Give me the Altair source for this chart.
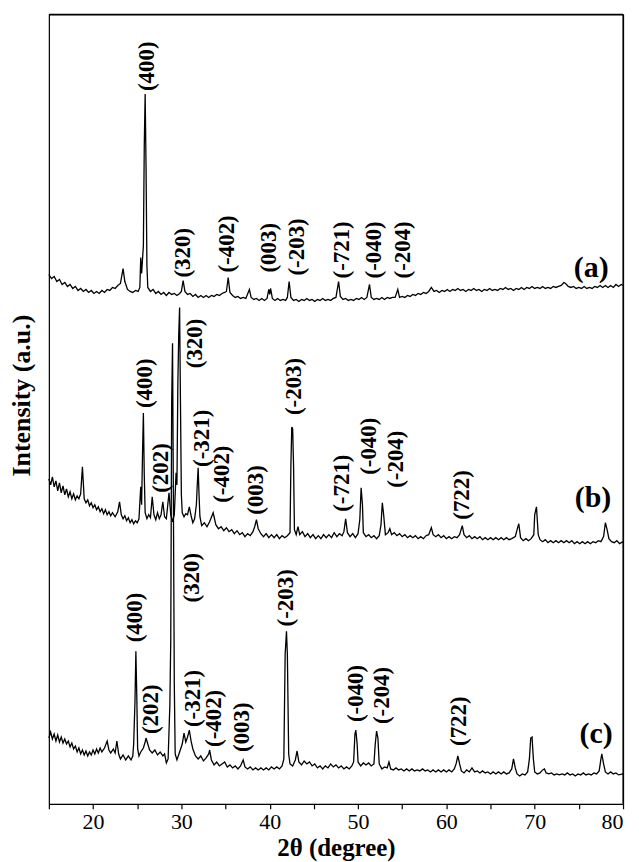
import altair as alt
import pandas as pd

# ---- data (2θ in degrees, intensity in arbitrary units) ----
trace_a = [
    (15.0, 531), (15.3, 527), (15.6, 529), (15.9, 524), (16.2, 526), (16.5, 521), (16.8, 523), (17.1, 519),
    (17.4, 521), (17.7, 517), (18.0, 519), (18.3, 515), (18.6, 517), (18.9, 514), (19.2, 516), (19.5, 513),
    (19.8, 515), (20.1, 512), (20.4, 514), (20.7, 512), (21.0, 515), (21.3, 513), (21.6, 516), (21.9, 515),
    (22.2, 518), (22.5, 517), (22.8, 520), (23.1, 522), (23.4, 537), (23.6, 524), (23.9, 516), (24.2, 514),
    (24.5, 513), (24.8, 515), (25.1, 514), (25.3, 518), (25.4, 548), (25.5, 532), (25.7, 560), (25.8, 660),
    (25.9, 712), (26.0, 640), (26.1, 540), (26.2, 518), (26.5, 514), (26.8, 516), (27.1, 512), (27.4, 514),
    (27.7, 511), (28.0, 513), (28.3, 510), (28.6, 513), (28.9, 511), (29.2, 512), (29.5, 510), (29.8, 512),
    (30.0, 514), (30.2, 525), (30.4, 514), (30.7, 511), (31.0, 512), (31.3, 509), (31.6, 511), (31.9, 508),
    (32.2, 510), (32.5, 508), (32.8, 510), (33.1, 508), (33.4, 510), (33.7, 509), (34.0, 511), (34.3, 510),
    (34.6, 512), (34.9, 513), (35.1, 514), (35.3, 528), (35.5, 513), (35.8, 510), (36.1, 508), (36.4, 509),
    (36.7, 507), (37.0, 508), (37.3, 507), (37.7, 516), (37.9, 508), (38.2, 506), (38.5, 507), (38.8, 505),
    (39.1, 507), (39.4, 505), (39.7, 507), (39.9, 516), (40.0, 511), (40.1, 517), (40.3, 507), (40.6, 505),
    (40.9, 507), (41.2, 505), (41.5, 506), (41.8, 505), (42.0, 508), (42.2, 524), (42.4, 508), (42.7, 505),
    (43.0, 506), (43.3, 504), (43.6, 506), (43.9, 505), (44.2, 507), (44.5, 505), (44.8, 506), (45.1, 504),
    (45.4, 506), (45.7, 505), (46.0, 507), (46.3, 505), (46.6, 506), (46.9, 505), (47.2, 507), (47.5, 508),
    (47.8, 524), (48.0, 509), (48.3, 506), (48.6, 507), (48.9, 505), (49.2, 506), (49.5, 505), (49.8, 507),
    (50.1, 506), (50.4, 508), (50.7, 506), (51.0, 508), (51.3, 521), (51.5, 508), (51.8, 506), (52.1, 507),
    (52.4, 506), (52.7, 508), (53.0, 506), (53.3, 508), (53.6, 507), (53.9, 508), (54.2, 508), (54.5, 516),
    (54.7, 508), (55.0, 509), (55.3, 508), (55.6, 510), (55.9, 509), (56.2, 511), (56.5, 510), (56.8, 512),
    (57.1, 511), (57.4, 513), (57.7, 512), (58.0, 514), (58.3, 518), (58.6, 514), (58.9, 515), (59.2, 513),
    (59.5, 515), (59.8, 514), (60.1, 516), (60.4, 514), (60.7, 516), (61.0, 515), (61.3, 517), (61.6, 515),
    (61.9, 516), (62.2, 514), (62.5, 516), (62.8, 515), (63.1, 517), (63.4, 515), (63.7, 516), (64.0, 514),
    (64.3, 516), (64.6, 515), (64.9, 517), (65.2, 515), (65.5, 516), (65.8, 515), (66.1, 517), (66.4, 516),
    (66.7, 518), (67.0, 516), (67.3, 517), (67.6, 515), (67.9, 517), (68.2, 516), (68.5, 518), (68.8, 516),
    (69.1, 518), (69.4, 517), (69.7, 519), (70.0, 517), (70.3, 518), (70.6, 517), (70.9, 519), (71.2, 517),
    (71.5, 518), (71.8, 517), (72.1, 519), (72.4, 518), (72.7, 519), (73.0, 520), (73.3, 523), (73.5, 522),
    (73.8, 519), (74.1, 518), (74.4, 519), (74.7, 517), (75.0, 518), (75.3, 517), (75.6, 519), (75.9, 517),
    (76.2, 518), (76.5, 517), (76.8, 519), (77.1, 518), (77.4, 520), (77.7, 518), (78.0, 520), (78.3, 518),
    (78.6, 520), (78.9, 518), (79.2, 521), (79.5, 519), (79.8, 521), (80.0, 520),
]

trace_b = [
    (15.0, 326), (15.2, 320), (15.4, 328), (15.6, 318), (15.8, 324), (16.0, 314), (16.2, 322), (16.4, 312),
    (16.6, 319), (16.8, 310), (17.0, 316), (17.2, 308), (17.4, 313), (17.6, 306), (17.8, 311), (18.0, 305),
    (18.2, 309), (18.4, 306), (18.6, 311), (18.8, 338), (19.0, 306), (19.2, 302), (19.4, 305), (19.6, 299),
    (19.8, 302), (20.0, 297), (20.2, 300), (20.4, 295), (20.6, 298), (20.8, 293), (21.0, 296), (21.2, 291),
    (21.4, 295), (21.6, 290), (21.8, 293), (22.0, 289), (22.2, 292), (22.5, 288), (22.8, 293), (23.0, 303),
    (23.2, 290), (23.4, 286), (23.6, 289), (23.8, 284), (24.0, 287), (24.2, 282), (24.4, 285), (24.6, 281),
    (24.8, 284), (25.0, 282), (25.2, 286), (25.4, 318), (25.5, 300), (25.6, 350), (25.7, 392), (25.8, 330),
    (25.9, 292), (26.1, 286), (26.3, 290), (26.5, 287), (26.7, 308), (26.9, 290), (27.1, 285), (27.3, 292),
    (27.5, 286), (27.7, 290), (27.9, 303), (28.1, 288), (28.3, 286), (28.6, 312), (28.8, 290), (29.0, 283),
    (29.2, 290), (29.4, 332), (29.5, 320), (29.6, 420), (29.7, 470), (29.8, 498), (29.9, 400), (30.0, 310),
    (30.1, 292), (30.3, 288), (30.5, 291), (30.7, 290), (30.9, 298), (31.1, 289), (31.3, 282), (31.5, 286),
    (31.7, 300), (31.8, 320), (31.9, 337), (32.0, 310), (32.1, 288), (32.3, 279), (32.6, 282), (32.9, 278),
    (33.2, 283), (33.6, 292), (33.9, 280), (34.2, 276), (34.5, 278), (34.8, 274), (35.1, 277), (35.4, 273),
    (35.7, 275), (36.0, 271), (36.3, 274), (36.6, 270), (36.9, 272), (37.2, 268), (37.5, 271), (37.8, 269),
    (38.1, 273), (38.3, 278), (38.5, 285), (38.7, 276), (39.0, 271), (39.3, 268), (39.6, 271), (39.9, 267),
    (40.2, 270), (40.5, 267), (40.8, 270), (41.1, 266), (41.4, 269), (41.7, 267), (42.0, 269), (42.3, 272),
    (42.4, 340), (42.5, 378), (42.6, 376), (42.7, 340), (42.8, 275), (43.0, 270), (43.2, 278), (43.4, 270),
    (43.7, 273), (44.0, 268), (44.3, 271), (44.6, 267), (44.9, 270), (45.2, 266), (45.5, 269), (45.8, 266),
    (46.1, 270), (46.4, 267), (46.7, 270), (47.0, 267), (47.3, 272), (47.6, 268), (47.9, 271), (48.2, 269),
    (48.4, 273), (48.6, 286), (48.8, 272), (49.1, 268), (49.4, 271), (49.7, 267), (50.0, 271), (50.2, 285),
    (50.35, 317), (50.5, 300), (50.6, 272), (50.9, 268), (51.2, 270), (51.5, 267), (51.8, 269), (52.1, 266),
    (52.4, 269), (52.6, 280), (52.75, 302), (52.9, 290), (53.1, 270), (53.4, 272), (53.6, 276), (53.8, 270),
    (54.1, 272), (54.4, 269), (54.7, 271), (55.0, 268), (55.3, 270), (55.6, 267), (55.9, 269), (56.2, 267),
    (56.5, 269), (56.8, 266), (57.1, 268), (57.4, 266), (57.7, 269), (58.0, 270), (58.3, 277), (58.5, 270),
    (58.8, 268), (59.1, 270), (59.4, 267), (59.7, 269), (60.0, 266), (60.3, 268), (60.6, 266), (60.9, 268),
    (61.2, 267), (61.5, 270), (61.8, 279), (62.0, 270), (62.3, 267), (62.6, 269), (62.9, 266), (63.2, 268),
    (63.5, 266), (63.8, 268), (64.1, 265), (64.4, 267), (64.7, 265), (65.0, 267), (65.3, 265), (65.6, 267),
    (65.9, 265), (66.2, 267), (66.5, 265), (66.8, 267), (67.1, 265), (67.4, 266), (67.8, 268), (68.1, 278),
    (68.2, 281), (68.4, 267), (68.7, 264), (69.0, 266), (69.3, 264), (69.6, 266), (69.9, 270), (70.0, 290),
    (70.2, 298), (70.4, 270), (70.6, 265), (70.9, 263), (71.2, 265), (71.5, 262), (71.8, 264), (72.1, 262),
    (72.4, 264), (72.7, 262), (73.0, 264), (73.3, 262), (73.6, 264), (73.9, 262), (74.2, 264), (74.5, 261),
    (74.8, 263), (75.1, 261), (75.4, 263), (75.7, 261), (76.0, 263), (76.3, 261), (76.6, 263), (76.9, 262),
    (77.2, 264), (77.5, 263), (77.8, 268), (78.0, 282), (78.2, 275), (78.4, 266), (78.7, 263), (79.0, 262),
    (79.3, 264), (79.6, 261), (80.0, 263),
]

trace_c = [
    (15.0, 66), (15.2, 72), (15.4, 65), (15.6, 70), (15.8, 63), (16.0, 69), (16.2, 62), (16.4, 67),
    (16.6, 61), (16.8, 65), (17.0, 60), (17.2, 63), (17.4, 57), (17.6, 61), (17.8, 55), (18.0, 58),
    (18.2, 52), (18.4, 56), (18.6, 50), (18.8, 54), (19.0, 49), (19.2, 53), (19.4, 48), (19.6, 52),
    (19.8, 49), (20.0, 54), (20.2, 50), (20.4, 55), (20.6, 51), (20.8, 56), (21.0, 52), (21.3, 56),
    (21.6, 63), (21.8, 54), (22.0, 51), (22.3, 55), (22.5, 51), (22.7, 63), (22.9, 50), (23.1, 45),
    (23.4, 49), (23.7, 44), (24.0, 48), (24.3, 44), (24.5, 48), (24.6, 60), (24.75, 103), (24.85, 153),
    (24.95, 110), (25.05, 55), (25.2, 48), (25.4, 52), (25.7, 56), (25.9, 62), (26.0, 66), (26.2, 60),
    (26.4, 54), (26.7, 51), (27.0, 54), (27.3, 49), (27.6, 52), (27.9, 48), (28.1, 50), (28.3, 41),
    (28.5, 45), (28.7, 100), (28.8, 165), (28.9, 400), (29.0, 462), (29.1, 300), (29.2, 120), (29.3, 50),
    (29.5, 44), (29.8, 52), (30.1, 60), (30.3, 71), (30.5, 62), (30.7, 67), (30.9, 74), (31.1, 63),
    (31.3, 55), (31.6, 48), (31.9, 45), (32.2, 48), (32.5, 43), (32.8, 46), (33.1, 50), (33.2, 54),
    (33.4, 44), (33.7, 39), (34.0, 42), (34.3, 38), (34.6, 40), (34.9, 42), (35.2, 37), (35.5, 39),
    (35.8, 36), (36.1, 38), (36.4, 35), (36.7, 38), (37.0, 44), (37.2, 37), (37.5, 35), (37.8, 37),
    (38.1, 34), (38.4, 36), (38.7, 34), (39.0, 36), (39.3, 34), (39.6, 36), (39.9, 34), (40.2, 37),
    (40.5, 35), (40.8, 37), (41.1, 35), (41.4, 38), (41.6, 45), (41.75, 150), (41.9, 173), (42.0, 150),
    (42.15, 50), (42.3, 40), (42.6, 38), (42.9, 44), (43.1, 53), (43.3, 42), (43.6, 39), (43.9, 43),
    (44.2, 40), (44.5, 42), (44.8, 38), (45.1, 40), (45.4, 36), (45.7, 38), (46.0, 35), (46.3, 38),
    (46.6, 36), (46.9, 40), (47.2, 37), (47.5, 39), (47.8, 36), (48.1, 38), (48.4, 35), (48.7, 37),
    (49.0, 35), (49.3, 38), (49.5, 42), (49.65, 70), (49.75, 74), (49.9, 60), (50.0, 42), (50.3, 38),
    (50.6, 41), (50.9, 39), (51.2, 41), (51.5, 38), (51.8, 40), (51.95, 60), (52.1, 73), (52.25, 66),
    (52.4, 40), (52.7, 35), (53.0, 37), (53.3, 36), (53.5, 42), (53.7, 35), (54.0, 34), (54.3, 36),
    (54.6, 34), (54.9, 35), (55.2, 33), (55.5, 35), (55.8, 33), (56.1, 35), (56.4, 33), (56.7, 34),
    (57.0, 33), (57.3, 35), (57.6, 33), (57.9, 34), (58.2, 32), (58.5, 34), (58.8, 32), (59.1, 34),
    (59.4, 32), (59.7, 34), (60.0, 32), (60.3, 34), (60.6, 32), (60.9, 35), (61.1, 40), (61.3, 48),
    (61.5, 40), (61.7, 33), (62.0, 31), (62.3, 34), (62.6, 32), (62.9, 36), (63.2, 32), (63.5, 33),
    (63.8, 31), (64.1, 33), (64.4, 31), (64.7, 32), (65.0, 30), (65.3, 32), (65.6, 30), (65.9, 32),
    (66.2, 30), (66.5, 32), (66.8, 30), (67.1, 31), (67.4, 35), (67.6, 45), (67.8, 36), (68.0, 30),
    (68.3, 28), (68.6, 30), (68.9, 29), (69.2, 32), (69.4, 45), (69.55, 66), (69.7, 67), (69.85, 45),
    (70.0, 32), (70.3, 30), (70.6, 31), (70.9, 34), (71.1, 35), (71.3, 31), (71.6, 30), (71.9, 31),
    (72.2, 29), (72.5, 30), (72.8, 29), (73.1, 30), (73.4, 29), (73.7, 31), (74.0, 29), (74.3, 30),
    (74.6, 28), (74.9, 30), (75.2, 29), (75.5, 31), (75.8, 29), (76.1, 30), (76.4, 29), (76.7, 31),
    (77.0, 30), (77.3, 33), (77.5, 45), (77.6, 50), (77.8, 40), (78.0, 32), (78.3, 30), (78.6, 32),
    (78.9, 30), (79.2, 31), (79.5, 29), (80.0, 30),
]

# peak labels: (text, 2θ position, intensity where the text starts)
labels_a = [("(400)", 26.06, 715), ("(320)", 30.23, 528), ("(-402)", 35.2, 533), ("(003)", 39.94, 533),
            ("(-203)", 43.1, 530), ("(-721)", 48.18, 527), ("(-040)", 51.8, 527), ("(-204)", 55.06, 527)]
labels_b = [("(400)", 25.83, 397), ("(202)", 27.75, 312), ("(320)", 31.59, 437), ("(-321)", 32.38, 338),
            ("(-402)", 34.63, 302), ("(003)", 38.47, 290), ("(-203)", 42.76, 390), ("(-721)", 48.18, 293),
            ("(-040)", 51.22, 330), ("(-204)", 54.27, 317), ("(722)", 61.72, 285)]
labels_c = [("(400)", 24.7, 162), ("(202)", 26.62, 70), ("(320)", 31.25, 202), ("(-321)", 31.36, 77),
            ("(-402)", 33.73, 57), ("(003)", 36.9, 52), ("(-203)", 41.86, 178), ("(-040)", 49.76, 82),
            ("(-204)", 52.69, 80), ("(722)", 61.38, 58)]

sample_names = ["(a)", "(b)", "(c)"]
sample_pos = [76.4, 76.6, 76.95]
sample_int = [538, 307, 70]

x_ticks = list(range(15, 81, 5))
x_range = [15, 80]
y_range = [0, 792]

# ---- build tables ----
rows = []
for name, tr in zip(sample_names, [trace_a, trace_b, trace_c]):
    for t, v in tr:
        rows.append({"theta": t, "I": v, "series": name})
lines_df = pd.DataFrame(rows)

lab_rows = []
for lab in [labels_a, labels_b, labels_c]:
    for txt, t, v in lab:
        lab_rows.append({"text": txt, "theta": t, "I": v})
labels_df = pd.DataFrame(lab_rows)

samples_df = pd.DataFrame({"text": sample_names, "theta": sample_pos, "I": sample_int})
# plot-frame edges (top and right), drawn through the scales
edges_df = pd.DataFrame({"theta": [x_range[0], x_range[1]], "theta2": [x_range[1], x_range[1]],
                         "I": [y_range[1], y_range[0]], "I2": [y_range[1], y_range[1]]})

FONT = "Liberation Serif"

x_scale = alt.Scale(domain=x_range, nice=False, zero=False)
y_scale = alt.Scale(domain=y_range, nice=False, zero=False)

x_axis = alt.Axis(values=x_ticks,
                  labelExpr="datum.value % 10 == 0 ? datum.label : ''",
                  title="2θ (degree)", grid=False,
                  labelFont=FONT, labelFontSize=22, labelColor="black",
                  labelPadding=3, tickSize=5, tickColor="black",
                  domainColor="black", tickWidth=1.2, domainWidth=1.2,
                  titleFont=FONT, titleFontSize=25, titleFontWeight="bold",
                  titleColor="black", titlePadding=3)
y_axis = alt.Axis(ticks=False, labels=False, grid=False,
                  title="Intensity (a.u.)", domainColor="black", domainWidth=1.2,
                  titleFont=FONT, titleFontSize=26, titleFontWeight="bold",
                  titleColor="black", titlePadding=14, titleY=382)
# bare axes on the top and right to close the frame
x_top = alt.Axis(orient="top", ticks=False, labels=False, grid=False, title=None,
                 domainColor="black", domainWidth=1.2)
y_right = alt.Axis(orient="right", ticks=False, labels=False, grid=False, title=None,
                   domainColor="black", domainWidth=1.2)

lines = alt.Chart(lines_df).mark_line(color="black", strokeWidth=1.3).encode(
    x=alt.X("theta:Q", scale=x_scale, axis=x_axis),
    y=alt.Y("I:Q", scale=y_scale, axis=y_axis),
    detail="series:N", order="theta:Q")

edges = alt.Chart(edges_df).mark_rule(color="black", strokeWidth=1.2).encode(
    x=alt.X("theta:Q", scale=x_scale, axis=x_top),
    x2="theta2:Q",
    y=alt.Y("I:Q", scale=y_scale, axis=y_right),
    y2="I2:Q")

peak_text = alt.Chart(labels_df).mark_text(
    angle=270, align="left", baseline="middle", font=FONT, fontWeight="bold",
    fontSize=23, color="black").encode(
    x=alt.X("theta:Q", axis=None), y=alt.Y("I:Q", axis=None), text="text:N")

sample_text = alt.Chart(samples_df).mark_text(
    align="center", baseline="middle", font=FONT, fontWeight="bold",
    fontSize=30, color="black").encode(
    x=alt.X("theta:Q", axis=None), y=alt.Y("I:Q", axis=None), text="text:N")

chart = alt.layer(lines, edges, peak_text, sample_text).resolve_axis(
    x="independent", y="independent"
).properties(
    width=576, height=792,
    background="white",
    autosize=alt.AutoSizeParams(type="none"),
    padding={"left": 41, "top": 5, "right": 8, "bottom": 57},
)

chart.save("out.html", embed_options={"renderer": "svg", "actions": False})
